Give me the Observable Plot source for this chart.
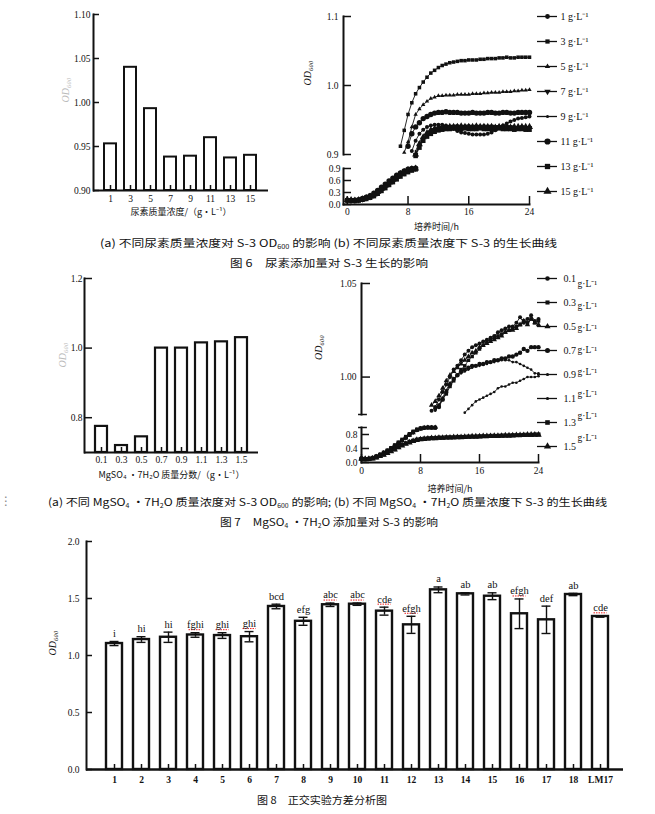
<!DOCTYPE html>
<html><head><meta charset="utf-8">
<script src="https://cdn.jsdelivr.net/npm/d3@7"></script>
<script src="https://cdn.jsdelivr.net/npm/@observablehq/plot@0.6"></script>
<style>
html,body{margin:0;padding:0;background:#fff;overflow:hidden;}
#page{position:relative;width:655px;height:814px;background:#fff;}
#page svg{position:absolute;left:0;top:0;}
.cap{position:absolute;white-space:nowrap;font-family:"Noto Sans CJK SC",sans-serif;font-size:10.5px;color:#111;line-height:1;}
.cap sub{font-size:6px;vertical-align:-2px;line-height:0;}
.dots{position:absolute;left:0;top:494px;font-size:12px;color:#888;font-family:"DejaVu Sans";}
</style></head><body>
<div id="page">
<div class="cap" data-w="457" style="left:100px;top:237.5px">(a) 不同尿素质量浓度对 S-3 OD<sub>600</sub> 的影响 (b) 不同尿素质量浓度下 S-3 的生长曲线</div>
<div class="cap" data-w="198" style="left:230px;top:257.5px">图 6　尿素添加量对 S-3 生长的影响</div>
<div class="cap" data-w="559" style="left:48px;top:496.5px">(a) 不同 MgSO<sub>4</sub> •7H<sub>2</sub>O 质量浓度对 S-3 OD<sub>600</sub> 的影响; (b) 不同 MgSO<sub>4</sub> •7H<sub>2</sub>O 质量浓度下 S-3 的生长曲线</div>
<div class="cap" data-w="218" style="left:220px;top:516.5px">图 7　MgSO<sub>4</sub> •7H<sub>2</sub>O 添加量对 S-3 的影响</div>
<div class="cap" data-w="130" style="left:257px;top:794.5px">图 8　正交实验方差分析图</div>
<div class="dots">⋮</div>
</div>
<script>
// ---------- Fig 6a : urea concentration vs OD600 ----------
const urea = ["1","3","5","7","9","11","13","15"];
const ureaOD = [0.953, 1.040, 0.993, 0.938, 0.939, 0.960, 0.937, 0.940];

// ---------- Fig 6b : growth curves (urea) ----------
const t6up = [7,7.5,8,8.5,9,9.5,10,10.5,11,11.5,12,12.5,13,13.5,14,14.5,15,15.5,16,16.5,17,17.5,18,18.5,19,19.5,20,20.5,21,21.5,22,22.5,23,23.5,24];
const u6_1  = [null,null,null,0.905,0.92,0.93,0.936,0.94,0.942,0.943,0.943,0.943,0.942,0.94,0.937,0.934,0.932,0.931,0.93,0.929,0.929,0.929,0.929,0.93,0.932,0.935,0.938,0.942,0.945,0.948,0.95,0.952,0.953,0.954,0.955];
const u6_3  = [0.912,0.935,0.958,0.975,0.988,0.997,1.005,1.012,1.018,1.022,1.026,1.029,1.031,1.033,1.034,1.035,1.036,1.036,1.037,1.037,1.037,1.038,1.038,1.039,1.039,1.039,1.040,1.040,1.041,1.040,1.040,1.041,1.041,1.041,1.041];
const u6_5  = [null,0.903,0.918,0.94,0.958,0.966,0.972,0.977,0.981,0.983,0.985,0.985,0.986,0.986,0.986,0.987,0.987,0.987,0.987,0.988,0.988,0.988,0.989,0.989,0.990,0.990,0.990,0.991,0.991,0.991,0.992,0.992,0.993,0.993,0.994];
const u6_7  = [null,null,null,null,0.9,0.912,0.922,0.928,0.933,0.936,0.938,0.939,0.94,0.94,0.941,0.94,0.94,0.941,0.94,0.94,0.941,0.94,0.94,0.94,0.941,0.94,0.94,0.939,0.94,0.94,0.939,0.939,0.94,0.939,0.939];
const u6_9  = [null,null,null,null,0.905,0.918,0.927,0.932,0.936,0.939,0.94,0.941,0.942,0.942,0.942,0.943,0.942,0.942,0.943,0.942,0.942,0.942,0.943,0.942,0.942,0.941,0.942,0.941,0.941,0.941,0.940,0.940,0.940,0.940,0.940];
const u6_11 = [null,null,0.912,0.93,0.94,0.946,0.952,0.955,0.958,0.96,0.961,0.961,0.962,0.961,0.961,0.961,0.960,0.960,0.960,0.961,0.960,0.960,0.960,0.961,0.961,0.960,0.960,0.961,0.961,0.960,0.960,0.961,0.961,0.961,0.961];
const u6_13 = [null,null,null,null,0.898,0.91,0.92,0.926,0.93,0.933,0.935,0.936,0.937,0.937,0.938,0.937,0.937,0.938,0.937,0.937,0.937,0.938,0.937,0.937,0.937,0.937,0.938,0.937,0.937,0.937,0.936,0.937,0.937,0.936,0.936];
const u6_15 = [null,null,null,null,0.9,0.915,0.925,0.931,0.935,0.937,0.938,0.939,0.939,0.94,0.94,0.94,0.941,0.94,0.94,0.94,0.941,0.94,0.94,0.94,0.94,0.939,0.94,0.94,0.94,0.939,0.94,0.94,0.94,0.94,0.94];

const t6low = [0,0.5,1,1.5,2,2.5,3,3.5,4,4.5,5,5.5,6,6.5,7,7.5,8,8.5,9];
const l6_1  = [0.10,0.09,0.10,0.11,0.13,0.16,0.19,0.24,0.30,0.38,0.46,0.53,0.60,0.68,0.75,0.80,0.85,0.88,0.90];
const l6_3  = [0.12,0.11,0.11,0.12,0.14,0.18,0.22,0.27,0.34,0.42,0.50,0.58,0.65,0.72,0.78,0.83,0.87,0.89,0.91];
const l6_5  = [0.11,0.10,0.10,0.12,0.14,0.17,0.21,0.26,0.32,0.40,0.48,0.56,0.63,0.70,0.77,0.82,0.86,0.89,0.90];
const l6_7  = [0.10,0.09,0.09,0.10,0.12,0.15,0.18,0.22,0.28,0.35,0.43,0.50,0.57,0.65,0.72,0.78,0.83,0.87,0.89];
const l6_9  = [0.12,0.10,0.10,0.11,0.13,0.15,0.18,0.23,0.29,0.36,0.44,0.51,0.58,0.66,0.73,0.79,0.84,0.87,0.89];
const l6_11 = [0.11,0.10,0.11,0.12,0.15,0.18,0.22,0.28,0.35,0.43,0.51,0.59,0.66,0.73,0.79,0.84,0.88,0.90,0.91];
const l6_13 = [0.10,0.10,0.09,0.10,0.12,0.14,0.17,0.21,0.27,0.34,0.41,0.49,0.56,0.63,0.70,0.76,0.81,0.85,0.88];
const l6_15 = [0.11,0.11,0.10,0.11,0.13,0.16,0.20,0.25,0.31,0.39,0.47,0.55,0.62,0.69,0.76,0.81,0.86,0.88,0.90];

// ---------- Fig 7a : MgSO4·7H2O vs OD600 ----------
const mg = ["0.1","0.3","0.5","0.7","0.9","1.1","1.3","1.5"];
const mgOD = [0.775, 0.72, 0.745, 1.0, 1.0, 1.015, 1.018, 1.03];

// ---------- Fig 7b : growth curves (MgSO4) ----------
const t7up = [9.5,10,10.5,11,11.5,12,12.5,13,13.5,14,14.5,15,15.5,16,16.5,17,17.5,18,18.5,19,19.5,20,20.5,21,21.5,22,22.5,23,23.5,24];
const u7_01 = [0.982,0.984,0.988,0.992,0.996,1.000,1.004,1.006,1.009,1.012,1.014,1.016,1.017,1.018,1.019,1.020,1.021,1.022,1.024,1.025,1.026,1.027,1.027,1.029,1.032,1.029,1.031,1.033,1.030,1.031];
const u7_03 = [null,0.983,0.985,0.988,0.991,0.995,0.998,1.001,1.004,1.006,1.009,1.011,1.013,1.015,1.017,1.019,1.020,1.021,1.022,1.023,1.024,1.025,1.026,1.027,1.028,1.030,1.029,1.031,1.029,1.030];
const u7_05 = [0.985,0.987,0.990,0.994,0.998,1.001,1.003,1.005,1.007,1.009,1.011,1.013,1.014,1.016,1.017,1.018,1.019,1.020,1.021,1.022,1.024,1.025,1.025,1.026,1.028,1.030,1.028,1.031,1.029,1.028];
const u7_07 = [null,null,0.984,0.988,0.992,0.996,0.999,1.001,1.003,1.004,1.005,1.006,1.006,1.007,1.007,1.008,1.008,1.009,1.009,1.010,1.010,1.011,1.011,1.012,1.013,1.015,1.014,1.016,1.016,1.016];
const u7_09 = [null,0.982,0.985,0.989,0.993,0.997,0.999,1.001,1.002,1.003,1.004,1.005,1.006,1.006,1.007,1.007,1.008,1.008,1.009,1.009,1.009,1.009,1.008,1.008,1.007,1.006,1.005,1.004,1.002,1.002];
const u7_11 = [null,null,null,null,null,null,null,null,null,0.981,0.983,0.985,0.987,0.988,0.989,0.990,0.991,0.992,0.994,0.995,0.995,0.996,0.997,0.997,0.998,0.999,1.000,1.000,1.000,1.0005];

const t7fast = [0,0.5,1,1.5,2,2.5,3,3.5,4,4.5,5,5.5,6,6.5,7,7.5,8,8.5,9,9.5,10];
const f7_01 = [0.10,0.09,0.10,0.13,0.17,0.22,0.28,0.33,0.40,0.47,0.55,0.63,0.71,0.79,0.86,0.93,0.97,0.99,1.00,1.00,1.00];
const f7_03 = [0.11,0.10,0.11,0.14,0.18,0.23,0.29,0.35,0.42,0.50,0.58,0.66,0.74,0.82,0.89,0.95,0.98,1.00,1.00,1.00,0.99];
const f7_05 = [0.10,0.10,0.10,0.12,0.16,0.21,0.27,0.32,0.39,0.46,0.54,0.62,0.70,0.78,0.85,0.92,0.96,0.99,1.00,0.99,1.00];
const f7_07 = [0.12,0.10,0.11,0.13,0.17,0.22,0.27,0.34,0.41,0.48,0.56,0.64,0.72,0.80,0.87,0.93,0.97,0.99,1.00,1.00,1.00];
const f7_09 = [0.10,0.09,0.10,0.12,0.16,0.20,0.26,0.32,0.38,0.45,0.53,0.61,0.69,0.77,0.84,0.91,0.96,0.98,0.99,1.00,1.00];
const f7_11 = [0.11,0.10,0.10,0.13,0.17,0.21,0.27,0.33,0.40,0.47,0.54,0.62,0.70,0.78,0.85,0.92,0.96,0.99,1.00,1.00,1.00];
const t7slow = [0,0.5,1,1.5,2,2.5,3,3.5,4,4.5,5,5.5,6,6.5,7,7.5,8,8.5,9,9.5,10,10.5,11,11.5,12,12.5,13,13.5,14,14.5,15,15.5,16,16.5,17,17.5,18,18.5,19,19.5,20,20.5,21,21.5,22,22.5,23,23.5,24];
const s7_13 = [0.10,0.09,0.10,0.12,0.15,0.19,0.23,0.28,0.33, 0.38,0.44,0.50,0.55,0.59,0.62,0.65,0.67, 0.68,0.69,0.70,0.70,0.71,0.71,0.72,0.72, 0.72,0.73,0.73,0.73,0.74,0.74,0.74,0.75, 0.75,0.75,0.76,0.76,0.76,0.77,0.77,0.77, 0.78,0.78,0.78,0.79,0.79,0.79,0.80,0.80];
const s7_15 = [0.11,0.10,0.10,0.11,0.14,0.18,0.22,0.27,0.32, 0.37,0.43,0.48,0.53,0.57,0.61,0.64,0.66, 0.67,0.68,0.69,0.69,0.70,0.70,0.71,0.71, 0.72,0.72,0.72,0.73,0.73,0.74,0.74,0.74, 0.75,0.75,0.75,0.76,0.76,0.76,0.77,0.77, 0.77,0.78,0.78,0.78,0.79,0.79,0.79,0.79];

// ---------- Fig 8 : orthogonal experiment ----------
const groups8 = ["1","2","3","4","5","6","7","8","9","10","11","12","13","14","15","16","17","18","LM17"];
const od8  = [1.105,1.14,1.16,1.18,1.175,1.165,1.43,1.30,1.445,1.45,1.389,1.269,1.576,1.541,1.52,1.366,1.313,1.535,1.342];
const err8 = [0.018,0.025,0.045,0.02,0.025,0.045,0.02,0.035,0.015,0.01,0.035,0.075,0.025,0.01,0.03,0.13,0.12,0.01,0.006];
const sig8 = ["i","hi","hi","fghi","ghi","ghi","bcd","efg","abc","abc","cde","efgh","a","ab","ab","efgh","def","ab","cde"];
const squiggle8 = ["4","5","6","9","10","11","12","16","LM17"];

// ---------- helpers ----------
const SERIF = "'Liberation Serif', serif";
const CJK = "'Noto Sans CJK SC', sans-serif";
const INK = "#111";
const page = document.getElementById("page");
function add(opts) {
  const svg = Plot.plot(Object.assign({
    width: 655, height: 814,
    style: {background: "transparent", fontFamily: SERIF, fontSize: "9.5px", color: INK, overflow: "visible"}
  }, opts));
  page.appendChild(svg);
}
function rows(T, vals) { return T.map((t, i) => ({t, v: vals[i]})).filter(d => d.v != null); }
function seriesMarks(T, series, sym) {
  const m = [];
  series.forEach((vals, i) => {
    const r = rows(T, vals);
    m.push(Plot.line(r, {x: "t", y: "v", stroke: INK, strokeWidth: 0.9}));
    m.push(Plot.dot(r, {x: "t", y: "v", fill: INK, stroke: "none", symbol: sym[i].symbol, r: sym[i].r, rotate: sym[i].rotate || 0}));
  });
  return m;
}
const odLabel = (dx, dy, fill) => Plot.text(["OD₆₀₀"], {text: d => d, frameAnchor: "left", dx, dy, rotate: -90, fontStyle: "italic", fontSize: 10, fill});
const SYM6 = [{symbol:"circle",r:2},{symbol:"square",r:2},{symbol:"triangle",r:1.6},{symbol:"triangle",r:2,rotate:180},{symbol:"circle",r:1.1},{symbol:"circle",r:2.7},{symbol:"square",r:2.6},{symbol:"triangle",r:2.6}];
const SYM7 = [{symbol:"circle",r:2},{symbol:"square",r:2},{symbol:"triangle",r:2},{symbol:"circle",r:2.2},{symbol:"circle",r:1.3},{symbol:"circle",r:1.3},{symbol:"square",r:2.3},{symbol:"triangle",r:2.4}];

// ---------- Fig 6a ----------
add({
  marginLeft: 93, marginRight: 387, marginTop: 14, marginBottom: 624,
  x: {type: "band", domain: urea, padding: 0.38},
  y: {domain: [0.9, 1.1]},
  marks: [
    Plot.barY(urea.map((c, i) => ({c, v: ureaOD[i]})), {x: "c", y1: () => 0.9, y2: "v", fill: "white", stroke: INK, strokeWidth: 2}),
    Plot.axisX({tickSize: -5, tickPadding: 10, strokeWidth: 1.5, label: null}),
    Plot.axisY({ticks: [0.9, 0.95, 1.0, 1.05, 1.1], tickFormat: d3.format(".2f"), tickSize: -6, tickPadding: 9, strokeWidth: 1.5, label: null}),
    Plot.ruleY([0.9], {strokeWidth: 2}),
    Plot.frame({anchor: "left", strokeWidth: 2}),
    odLabel(-28, 0, "#bbb"),
    Plot.text(["尿素质量浓度/（g·L⁻¹）"], {text: d => d, frameAnchor: "bottom", dy: 24, fontFamily: CJK, fontSize: 9})
  ]
});

// ---------- Fig 6b upper ----------
add({
  marginLeft: 343, marginRight: 126, marginTop: 16, marginBottom: 660,
  x: {domain: [-0.5, 24], axis: null},
  y: {domain: [0.9, 1.1]},
  marks: [
    Plot.frame({anchor: "left", strokeWidth: 2}),
    Plot.axisY({ticks: [0.9, 1.0, 1.1], tickFormat: d3.format(".1f"), tickSize: -8, tickPadding: 13, strokeWidth: 1.5, label: null}),
    ...seriesMarks(t6up, [u6_1, u6_3, u6_5, u6_7, u6_9, u6_11, u6_13, u6_15], SYM6),
    odLabel(-36, 0, INK)
  ]
});
// ---------- Fig 6b lower ----------
add({
  marginLeft: 343, marginRight: 126, marginTop: 168, marginBottom: 610,
  x: {domain: [-0.5, 24]},
  y: {domain: [0, 0.9]},
  marks: [
    Plot.frame({anchor: "left", strokeWidth: 2}),
    Plot.frame({anchor: "bottom", strokeWidth: 2}),
    Plot.axisY({ticks: [0, 0.3, 0.6, 0.9], tickFormat: d3.format(".1f"), tickSize: -8, tickPadding: 11, strokeWidth: 1.5, label: null}),
    Plot.axisX({ticks: [0, 8, 16, 24], tickSize: -8, tickPadding: 12, strokeWidth: 1.5, label: null}),
    ...seriesMarks(t6low, [l6_1, l6_3, l6_5, l6_7, l6_9, l6_11, l6_13, l6_15], SYM6),
    Plot.text(["培养时间/h"], {text: d => d, frameAnchor: "bottom", dy: 25, fontFamily: CJK, fontSize: 9})
  ]
});
// ---------- Fig 6b legend ----------
add({
  x: {domain: [0, 1], range: [537, 557], axis: null},
  y: {type: "point", domain: urea, range: [14, 192], padding: 0, axis: null},
  marks: [
    Plot.ruleY(urea, {y: d => d, x1: () => 0, x2: () => 1, stroke: INK, strokeWidth: 1.3}),
    ...urea.map((c, i) => Plot.dot([c], {y: d => d, x: () => 0.5, fill: INK, stroke: "none", symbol: SYM6[i].symbol, r: SYM6[i].r + 0.4, rotate: SYM6[i].rotate || 0})),
    Plot.text(urea, {y: d => d, x: () => 1, dx: 3, text: d => d + " g·L⁻¹", textAnchor: "start", fontSize: 10})
  ]
});

// ---------- Fig 7a ----------
add({
  marginLeft: 84, marginRight: 397, marginTop: 278, marginBottom: 362,
  x: {type: "band", domain: mg, padding: 0.38},
  y: {domain: [0.7, 1.2]},
  marks: [
    Plot.barY(mg.map((c, i) => ({c, v: mgOD[i]})), {x: "c", y1: () => 0.7, y2: "v", fill: "white", stroke: INK, strokeWidth: 2.2}),
    Plot.axisX({tickSize: -5, tickPadding: 9, strokeWidth: 1.5, label: null}),
    Plot.axisY({ticks: [0.8, 1.0, 1.2], tickFormat: d3.format(".1f"), tickSize: -8, tickPadding: 10, strokeWidth: 1.5, label: null}),
    Plot.ruleY([0.7], {strokeWidth: 2}),
    Plot.frame({anchor: "left", strokeWidth: 2}),
    odLabel(-22, 2, "#bbb"),
    Plot.text(["MgSO₄ •7H₂O 质量分数/（g·L⁻¹）"], {text: d => d, frameAnchor: "bottom", dy: 25, fontFamily: CJK, fontSize: 9})
  ]
});

// ---------- Fig 7b upper ----------
add({
  marginLeft: 361, marginRight: 117, marginTop: 283, marginBottom: 400,
  x: {domain: [0, 24], axis: null},
  y: {domain: [0.98, 1.05]},
  marks: [
    Plot.frame({anchor: "left", strokeWidth: 2}),
    Plot.axisY({ticks: [1.0, 1.05], tickFormat: d3.format(".2f"), tickSize: -9, tickPadding: 14, strokeWidth: 1.5, label: null}),
    Plot.ruleY([0.98], {x1: () => -0.4, x2: () => 0.8, strokeWidth: 1.5}),
    ...seriesMarks(t7up, [u7_01, u7_03, u7_05, u7_07, u7_09, u7_11], SYM7),
    odLabel(-43, 11, INK)
  ]
});
// ---------- Fig 7b lower ----------
add({
  marginLeft: 361, marginRight: 117, marginTop: 427, marginBottom: 352,
  x: {domain: [0, 24]},
  y: {domain: [0, 1.0]},
  marks: [
    Plot.frame({anchor: "left", strokeWidth: 2}),
    Plot.frame({anchor: "bottom", strokeWidth: 2}),
    Plot.ruleY([1.0], {x1: () => -0.4, x2: () => 0.8, strokeWidth: 1.5}),
    Plot.axisY({ticks: [0, 0.4, 0.8], tickFormat: d3.format(".1f"), tickSize: -8, tickPadding: 12, strokeWidth: 1.5, label: null}),
    Plot.axisX({ticks: [0, 8, 16, 24], tickSize: -8, tickPadding: 13, strokeWidth: 1.5, label: null}),
    ...seriesMarks(t7fast, [f7_01, f7_03, f7_05, f7_07, f7_09, f7_11], SYM7),
    ...seriesMarks(t7slow, [s7_13, s7_15], SYM7.slice(6)),
    Plot.text(["培养时间/h"], {text: d => d, frameAnchor: "bottom", dy: 29, fontFamily: CJK, fontSize: 9})
  ]
});
// ---------- Fig 7b legend ----------
add({
  x: {domain: [0, 1], range: [537, 557], axis: null},
  y: {type: "point", domain: mg, range: [276, 447], padding: 0, axis: null},
  marks: [
    Plot.ruleY(mg, {y: d => d, x1: () => 0, x2: () => 1, stroke: INK, strokeWidth: 1.3}),
    ...mg.map((c, i) => Plot.dot([c], {y: d => d, x: () => 0.5, fill: INK, stroke: "none", symbol: SYM7[i].symbol, r: SYM7[i].r + 0.3})),
    Plot.text(mg, {y: d => d, x: () => 1, dx: 6, text: d => d, textAnchor: "start", fontSize: 10})
  ]
});
add({
  x: {domain: [0, 1], range: [537, 557], axis: null},
  y: {type: "point", domain: mg, range: [280, 440], padding: 0, axis: null},
  marks: [
    Plot.text(mg, {y: d => d, x: () => 1, dx: 20, text: () => "g·L⁻¹", textAnchor: "start", fontSize: 9.5})
  ]
});

// ---------- Fig 8 ----------
const data8 = groups8.map((g, i) => ({g, v: od8[i], e: err8[i], s: sig8[i]}));
add({
  marginLeft: 86, marginRight: 32, marginTop: 541, marginBottom: 45,
  x: {type: "band", domain: groups8, padding: 0.42, insetLeft: 4},
  y: {domain: [0, 2]},
  marks: [
    Plot.barY(data8, {x: "g", y: "v", fill: "white", stroke: INK, strokeWidth: 2.4}),
    Plot.ruleX(data8, {x: "g", y1: d => d.v - d.e, y2: d => d.v + d.e, stroke: INK, strokeWidth: 1.4}),
    Plot.tickY(data8, {x: "g", y: d => d.v + d.e, insetLeft: 3.5, insetRight: 3.5, stroke: INK, strokeWidth: 1.4}),
    Plot.tickY(data8, {x: "g", y: d => d.v - d.e, insetLeft: 3.5, insetRight: 3.5, stroke: INK, strokeWidth: 1.4}),
    Plot.axisX({tickSize: -5, tickPadding: 12, strokeWidth: 1.5, label: null, fontWeight: "bold"}),
    Plot.axisY({ticks: [0, 0.5, 1, 1.5, 2], tickFormat: d3.format(".1f"), tickSize: -6, tickPadding: 13, strokeWidth: 1.5, label: null}),
    Plot.ruleY([0], {strokeWidth: 2.5}),
    Plot.frame({anchor: "left", strokeWidth: 2}),
    Plot.tickY(data8.filter(d => squiggle8.includes(d.g)), {x: "g", y: d => d.v + d.e, dy: -3, insetLeft: 1.5, insetRight: 1.5, stroke: "#e22", strokeWidth: 1, strokeDasharray: "1.5 1"}),
    Plot.text(data8, {x: "g", y: d => d.v + d.e, text: "s", dy: -8, fontSize: 10.5, fontFamily: SERIF}),
    odLabel(-34, 0, INK)
  ]
});

// fit captions to the widths measured on the reference
document.querySelectorAll(".cap").forEach(el => {
  const w = +el.dataset.w, a = el.getBoundingClientRect().width;
  el.style.transformOrigin = "0 0";
  el.style.transform = `scaleX(${w / a})`;
});
</script>
</body></html>
